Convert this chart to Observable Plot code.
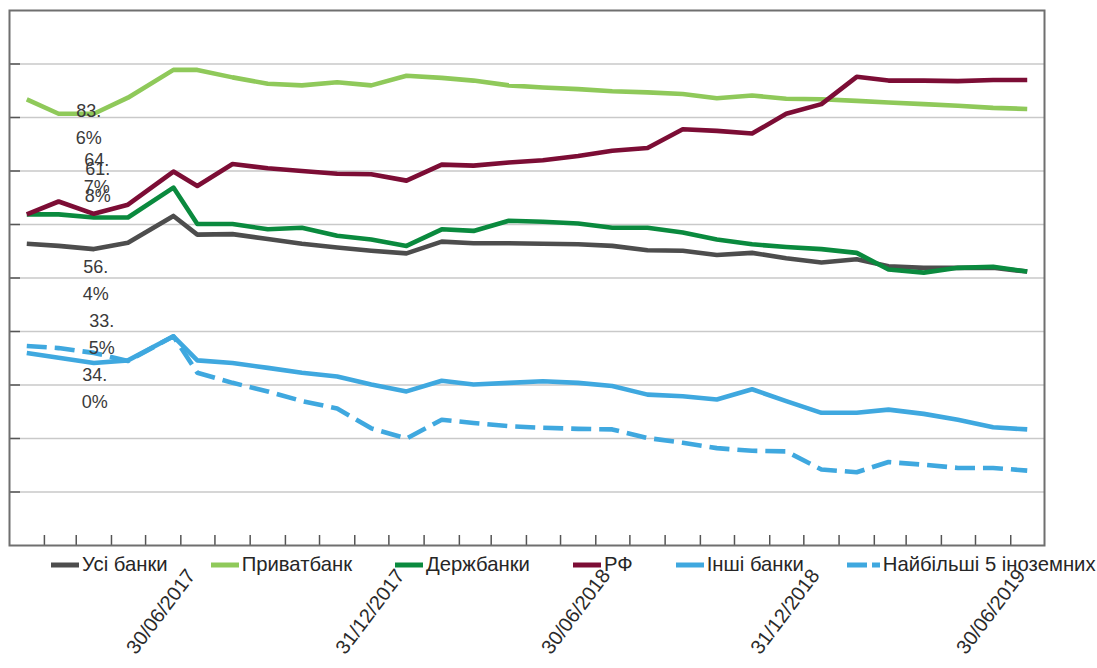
<!DOCTYPE html>
<html><head><meta charset="utf-8">
<script src="https://cdn.jsdelivr.net/npm/d3@7"></script>
<script src="https://cdn.jsdelivr.net/npm/@observablehq/plot@0.6"></script>
<style>
body{margin:0;background:#fff;font-family:"Liberation Sans",Arial,sans-serif;}
#wrap{position:relative;width:1097px;height:668px;overflow:hidden;}
#legend{position:absolute;left:51px;top:553px;display:flex;align-items:center;font-size:20.3px;color:#262626;white-space:nowrap;background:transparent}
.item{display:flex;align-items:center;margin-right:43px}
.item svg{margin-right:3px;display:block}
</style></head><body><div id="wrap"></div>
<script>
// ---- data ----
const dates = ["2017-01-31","2017-02-28","2017-03-31","2017-04-30","2017-06-09","2017-06-30","2017-07-31","2017-08-31","2017-09-30","2017-10-31","2017-11-30","2017-12-31","2018-01-31","2018-02-28","2018-03-31","2018-04-30","2018-05-31","2018-06-30","2018-07-31","2018-08-31","2018-09-30","2018-10-31","2018-11-30","2018-12-31","2019-01-31","2019-02-28","2019-03-31","2019-04-30","2019-05-31","2019-06-30"];
const seriesNames = ["Усі банки","Приватбанк","Держбанки","РФ","Інші банки","Найбільші 5 іноземних"];
const allBanks = [56.4,56.0,55.4,56.6,61.6,58.1,58.2,57.3,56.4,55.7,55.1,54.6,56.8,56.5,56.5,56.4,56.3,56.0,55.2,55.1,54.3,54.7,53.7,52.9,53.5,52.2,51.9,51.9,51.9,51.2];
const privat   = [83.4,80.7,80.7,83.7,88.9,88.9,87.5,86.3,86.0,86.6,86.0,87.8,87.4,86.9,86.0,85.6,85.3,84.9,84.7,84.4,83.6,84.1,83.5,83.4,83.1,82.8,82.5,82.2,81.8,81.6];
const stateB   = [61.9,61.9,61.3,61.3,66.9,60.1,60.1,59.1,59.4,57.9,57.2,56.0,59.1,58.8,60.7,60.5,60.2,59.4,59.4,58.5,57.2,56.3,55.8,55.4,54.7,51.6,51.0,51.9,52.1,51.2];
const rf       = [61.9,64.3,62.0,63.7,69.9,67.2,71.3,70.5,70.0,69.5,69.4,68.2,71.2,71.0,71.6,72.0,72.8,73.8,74.3,77.8,77.5,77.0,80.7,82.5,87.6,86.9,86.9,86.8,87.0,87.0];
const others   = [36.0,35.1,34.1,34.6,39.1,34.6,34.1,33.2,32.3,31.6,30.1,28.8,30.8,30.1,30.4,30.7,30.4,29.8,28.2,27.9,27.3,29.2,27.0,24.8,24.8,25.4,24.6,23.5,22.1,21.7];
const top5     = [37.3,36.9,36.0,34.5,39.1,32.3,30.4,28.8,27.0,25.6,21.9,20.0,23.5,22.9,22.3,22.0,21.8,21.7,20.1,19.2,18.2,17.7,17.6,14.2,13.7,15.6,15.1,14.5,14.5,14.0];
const tickLabels = ["30/06/2017","31/12/2017","30/06/2018","31/12/2018","30/06/2019"];
const pointLabels = ["83.6%","61.8%","64.7%","56.4%","33.5%","34.0%"]; // first-point labels
const pointLabelSeries = [1,2,3,0,4,5];

// ---- styles ----
const colors = ["#4d4d4d","#8fc95a","#0a8a3e","#7c0d35","#3fa8df","#3fa8df"];
const dashes = [null,null,null,null,null,"20,8"];
const labelOffsets = [[62,23],[71,-34],[70,-43],[69,34],[75,-21],[68,40]];

const parse = d3.utcParse("%Y-%m-%d");
const parseLbl = d3.utcParse("%d/%m/%Y");
const D = dates.map(parse);
const valuesList = [allBanks, privat, stateB, rf, others, top5];
const data = valuesList.map((vals, s) => vals.map((v, i) => ({date: D[i], value: v, series: seriesNames[s]})));

const halfSlot = 15.2 * 864e5;
const xDomain = [new Date(+D[0] - halfSlot), new Date(+D[D.length - 1] + halfSlot)];
const slotTicks = d3.utcMonth.range(new Date(Date.UTC(2017,1,1)), new Date(Date.UTC(2019,6,1))).map(d => new Date(+d + 14.5 * 864e5));

const marks = [
  Plot.gridY(d3.range(10, 100, 10), {stroke: "#c9c9c9", strokeOpacity: 1, strokeWidth: 1.6}),
  Plot.axisY(d3.range(10, 100, 10), {tickSize: -11, tickFormat: () => "", label: null, stroke: "#555", strokeWidth: 1.5}),
  Plot.axisX(slotTicks, {tickSize: -10, tickFormat: () => "", label: null, stroke: "#555", strokeWidth: 1.5}),
  Plot.frame({stroke: "#6f6f6f", strokeWidth: 2}),
];
valuesList.forEach((vals, s) => {
  marks.push(Plot.line(data[s], {x: "date", y: "value", stroke: colors[s], strokeWidth: 4.6,
    strokeLinejoin: "round", strokeLinecap: "butt", strokeDasharray: dashes[s]}));
});
pointLabels.forEach((lbl, k) => {
  const s = pointLabelSeries[k];
  marks.push(Plot.text([lbl], {x: () => D[0], y: () => valuesList[s][0], text: d => d.replace(".", ".\n"),
    dx: labelOffsets[k][0], dy: labelOffsets[k][1], fontSize: 18, lineHeight: 1.5, fill: "#3a3a3a",
    fontFamily: "Liberation Sans, Arial, sans-serif"}));
});
marks.push(Plot.text(tickLabels, {x: d => parseLbl(d), frameAnchor: "bottom", dy: 30, dx: -1, rotate: -53,
  textAnchor: "end", fontSize: 20, fill: "#2a2a2a", fontFamily: "Liberation Sans, Arial, sans-serif"}));

const chart = Plot.plot({
  width: 1097, height: 668,
  marginLeft: 9, marginRight: 53, marginTop: 10, marginBottom: 123,
  style: {background: "#fff", fontFamily: "Liberation Sans, Arial, sans-serif", overflow: "visible"},
  x: {type: "utc", domain: xDomain, axis: null},
  y: {domain: [0, 100], axis: null},
  marks
});
const wrap = document.getElementById("wrap");
wrap.appendChild(chart);

// legend
const legend = document.createElement("div");
legend.id = "legend";
seriesNames.forEach((name, s) => {
  const item = document.createElement("div");
  item.className = "item";
  const w = s === 5 ? 33 : 28;
  item.innerHTML = `<svg width="${w}" height="8"><line x1="0" y1="4" x2="${w}" y2="4" stroke="${colors[s]}" stroke-width="5" ${s === 5 ? 'stroke-dasharray="20,5"' : ''}/></svg><span>${name}</span>`;
  legend.appendChild(item);
});
wrap.appendChild(legend);
</script>
</body></html>
